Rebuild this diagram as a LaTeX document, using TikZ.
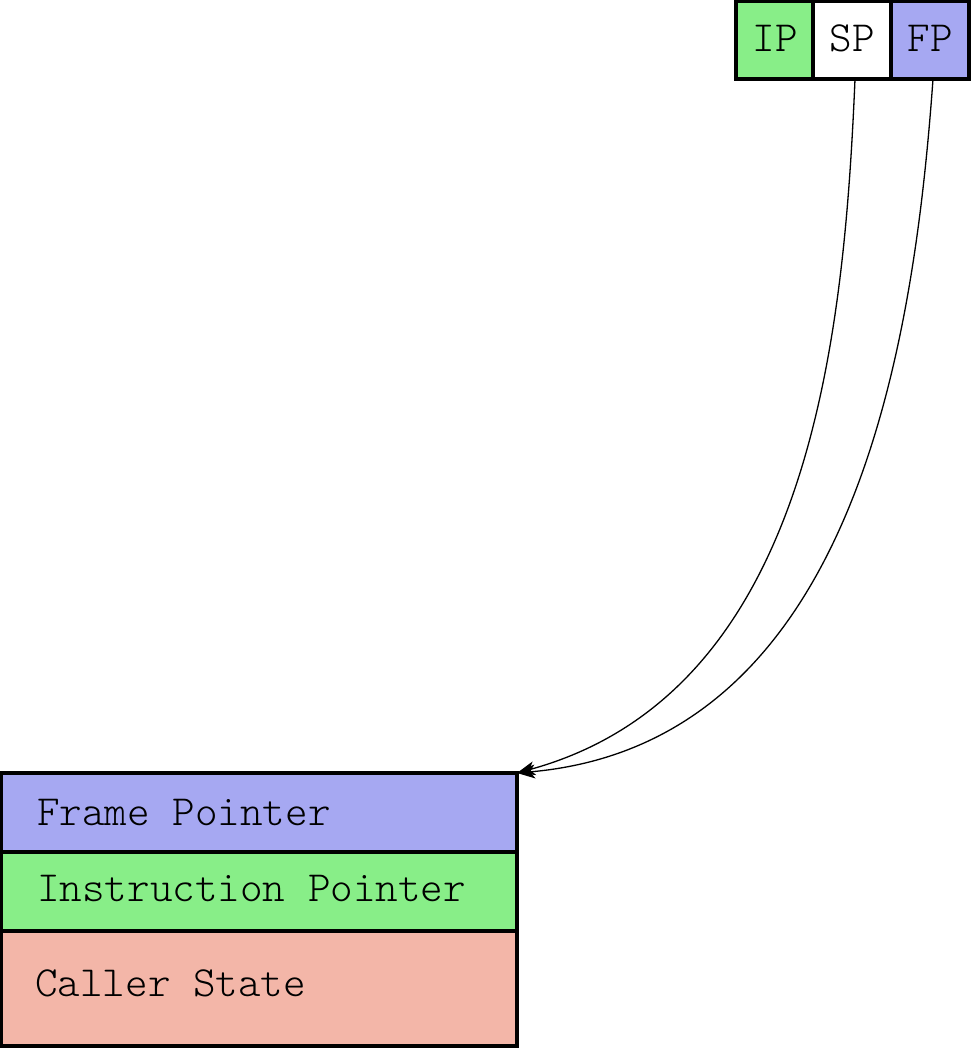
\documentclass[tikz,border=0pt]{standalone}
\usepackage{fontspec}
\setmonofont{Latin Modern Mono Light}
\usetikzlibrary{arrows.meta}
\definecolor{fpblue}{HTML}{A6A8F2}
\definecolor{ipgreen}{HTML}{88EE88}
\definecolor{salmon}{HTML}{F3B6A8}
\begin{document}
\begin{tikzpicture}[x=1pt,y=-1pt,
  cell/.style={draw=black,line width=3.2pt,inner sep=0pt,outer sep=0pt},
  lbl/.style={font=\fontsize{43}{46}\selectfont\ttfamily,inner sep=0pt,anchor=base west},
  ptr/.style={line width=1.3pt,-{Stealth[length=18pt,width=14pt,inset=5pt]}}]
\useasboundingbox (0,0) rectangle (971,1048);
% registers
\node[cell,fill=ipgreen,minimum width=77pt,minimum height=78pt] (ip) at (774.5,40) {};
\node[cell,fill=white,minimum width=78pt,minimum height=78pt] (sp) at (852,40) {};
\node[cell,fill=fpblue,minimum width=78pt,minimum height=78pt] (fp) at (930,40) {};
\node[lbl,anchor=base] (iptxt) at (775,52) {IP};
\node[lbl,anchor=base] (sptxt) at (852,52) {SP};
\node[lbl,anchor=base] (fptxt) at (930,52) {FP};
% stack
\node[cell,fill=fpblue,minimum width=516pt,minimum height=79pt] (fr) at (259,812.5) {};
\node[cell,fill=ipgreen,minimum width=516pt,minimum height=79pt] (in) at (259,891.5) {};
\node[cell,fill=salmon,minimum width=516pt,minimum height=115pt] (cs) at (259,988.5) {};
\node[lbl] (frtxt) at (37,825) {Frame Pointer};
\node[lbl] (intxt) at (37,901) {Instruction Pointer};
\node[lbl] (cstxt) at (35,996) {Caller State};
% pointers
\coordinate (spout) at (855,79);
\coordinate (fpout) at (933,79);
\draw[ptr] (spout) .. controls (844,337) and (811,693) .. (fr.north east);
\draw[ptr] (fpout) .. controls (914,343) and (855,744) .. (fr.north east);
\end{tikzpicture}
\end{document}
